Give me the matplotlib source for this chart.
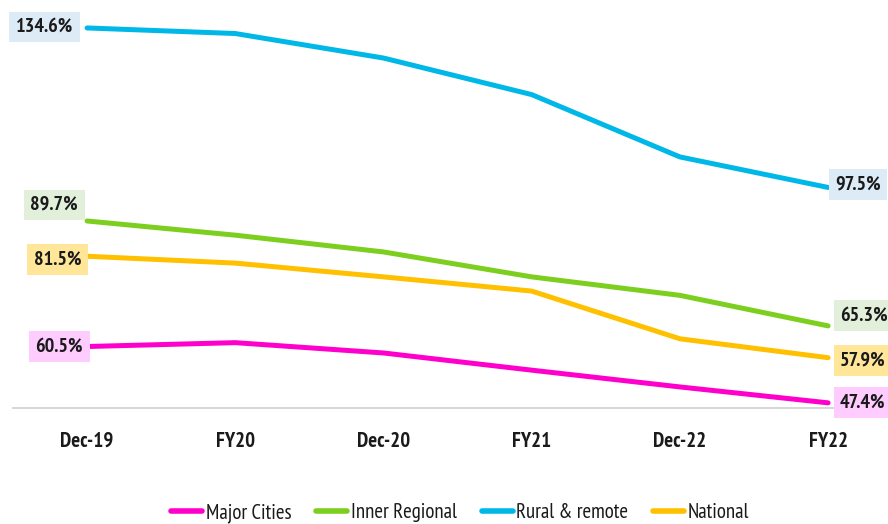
import matplotlib
matplotlib.use("Agg")
import matplotlib.pyplot as plt

categories = ["Dec-19", "FY20", "Dec-20", "FY21", "Dec-22", "FY22"]
major_cities = [60.5, 61.4, 59.0, 55.0, 51.1, 47.4]
inner_regional = [89.7, 86.4, 82.5, 76.7, 72.4, 65.3]
rural_remote = [134.6, 133.3, 127.6, 119.1, 104.6, 97.5]
national = [81.5, 79.9, 76.7, 73.4, 62.3, 57.9]

# name, values, line colour, label-box colour, left-label offset (px), right-label offset (px)
series = [
    ("Major Cities", major_cities, "#FF00CC", "#FFCCFF", (-4, 0), (12, 0)),
    ("Inner Regional", inner_regional, "#7CCF1E", "#E2EFDA", (-9, 16), (12, 10)),
    ("Rural & remote", rural_remote, "#00B8E8", "#DDEBF7", (-14, 1), (7, 3)),
    ("National", national, "#FFC000", "#FFE699", (-6, -3), (12, -3)),
]

plt.rcParams["font.family"] = ["PT Sans Narrow", "DejaVu Sans"]

W, H = 888, 524
PT = 0.72
FS = 15
LFS = 14.5
fig = plt.figure(figsize=(W / 100, H / 100), dpi=100)
left, right, top, bottom = 13, 888, 0, 408
ax = fig.add_axes([left / W, 1 - bottom / H, (right - left) / W, (bottom - top) / H])

x = list(range(len(categories)))
for name, vals, col, bcol, loff, roff in series:
    ax.plot(x, vals, color=col, lw=3.6, solid_capstyle="round", label=name)
    ax.annotate(f"{vals[0]:.1f}%", (x[0], vals[0]), xytext=(loff[0] * PT, loff[1] * PT),
                textcoords="offset points", ha="right", va="center", fontsize=LFS,
                fontweight="bold", color="#1a1a1a",
                bbox=dict(boxstyle="square,pad=0.32", fc=bcol, ec="none"))
    ax.annotate(f"{vals[-1]:.1f}%", (x[-1], vals[-1]), xytext=(roff[0] * PT, roff[1] * PT),
                textcoords="offset points", ha="left", va="center", fontsize=LFS,
                fontweight="bold", color="#1a1a1a", annotation_clip=False,
                bbox=dict(boxstyle="square,pad=0.32", fc=bcol, ec="none"))

ax.set_xlim(-0.5, -0.5 + (right - left) / 148.2)
ax.set_ylim(46.2, 141.1)
ax.set_yticks([])
ax.set_xticks(x)
ax.set_xticklabels(categories, fontsize=FS, fontweight="bold", color="#1a1a1a")
ax.tick_params(axis="x", length=0, pad=17)
for s in ["top", "right", "left"]:
    ax.spines[s].set_visible(False)
ax.spines["bottom"].set_color("#d0d0d0")
ax.spines["bottom"].set_linewidth(1.2)

leg = fig.legend(loc="center", bbox_to_anchor=(460 / W, 1 - 513 / H), ncol=4, frameon=False,
                 fontsize=FS, handlelength=1.5, handletextpad=0.15, columnspacing=1.2)
for t in leg.get_texts():
    t.set_color("#1a1a1a")
for h in leg.get_lines():
    h.set_linewidth(4)

fig.savefig("out.png", dpi=100)
